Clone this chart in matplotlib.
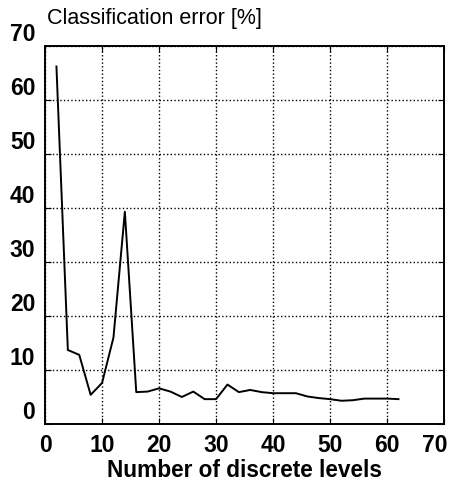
import matplotlib.pyplot as plt
import matplotlib.transforms as mtransforms

levels = [2, 4, 6, 8, 10, 12, 14, 16, 18, 20, 22, 24, 26, 28, 30, 32,
          34, 36, 38, 40, 42, 44, 46, 48, 50, 52, 54, 56, 58, 60, 62]
error = [66.2, 13.7, 12.8, 5.4, 7.6, 16.0, 39.3, 5.9, 6.0, 6.6, 6.0, 5.0,
         6.0, 4.6, 4.6, 7.3, 5.9, 6.3, 5.9, 5.7, 5.7, 5.7, 5.1, 4.8, 4.6,
         4.3, 4.4, 4.7, 4.7, 4.7, 4.6]
ticks = [0, 10, 20, 30, 40, 50, 60, 70]

plt.rcParams['font.family'] = ['Liberation Sans', 'DejaVu Sans']
plt.rcParams['font.weight'] = 'bold'

fig = plt.figure(figsize=(4.55, 4.84), dpi=100)
ax = fig.add_axes([0.099, 0.124, 0.877, 0.781])
ax.plot(levels, error, color='black', linewidth=1.4)
ax.set_xlim(0, 70)
ax.set_ylim(0, 70)
ax.set_xticks(ticks)
ax.set_yticks(ticks)
ax.grid(True, linestyle=':', color='black', linewidth=1.0)
ax.tick_params(direction='in', top=True, right=True, length=4,
               labelsize=16.5)
ax.tick_params(axis='x', pad=7)
ax.tick_params(axis='y', pad=7)
plt.setp(ax.get_yticklabels(), va='bottom')

# keep the last x label inside the figure, like the original
last = ax.get_xticklabels()[-1]
shift = mtransforms.ScaledTranslation(-7 / 72, 0, fig.dpi_scale_trans)
last.set_transform(last.get_transform() + shift)

for s in ax.spines.values():
    s.set_linewidth(1.4)
ax.set_xlabel('Number of discrete levels', fontsize=16.3, fontweight='bold',
              labelpad=2)
fig.text(0.104, 0.962, 'Classification error [%]', fontsize=15.5,
         fontweight='normal', ha='left', va='center')

fig.savefig('out.png')
